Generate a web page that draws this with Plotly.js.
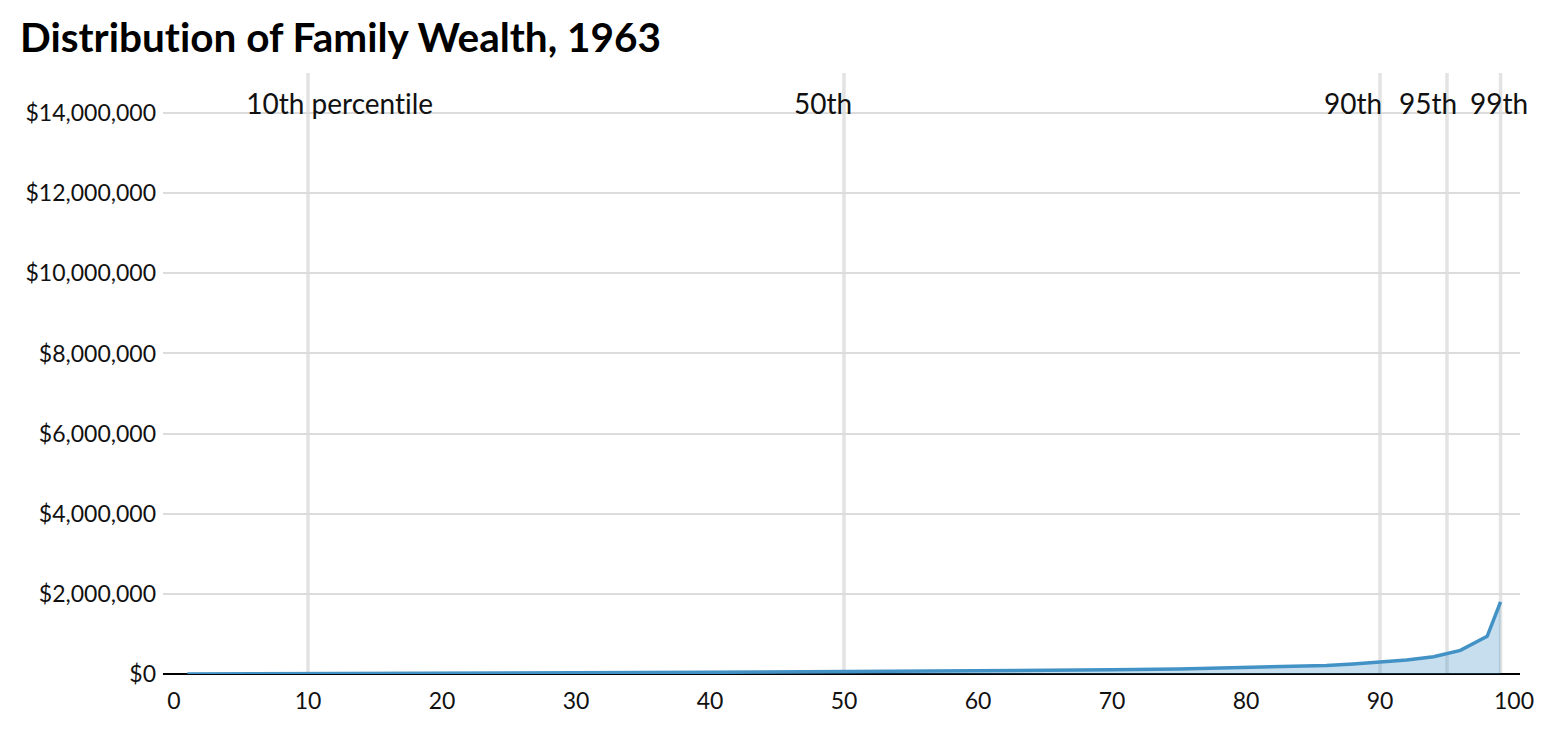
<!DOCTYPE html>
<html>
<head>
<meta charset="utf-8">
<script src="https://cdn.plot.ly/plotly-3.0.1.min.js"></script>
<style>
  body { margin: 0; background: #fff; }
  #chart { width: 1548px; height: 732px; }
  #chart text { font-variant-ligatures: none; font-feature-settings: "liga" 0; }
</style>
</head>
<body>
<div id="chart"></div>
<script>
// percentile of families (x) and family wealth in dollars (y)
const percentiles = [1, 5, 10, 15, 20, 25, 30, 35, 40, 45, 50, 55, 60, 65, 70, 75, 80, 84, 86, 88, 90, 92, 94, 96, 98, 99];
const wealth = [0, 2000, 5000, 10000, 15000, 20000, 27000, 35000, 42000, 50000, 58000, 67000, 78000, 90000, 105000, 125000, 160000, 190000, 215000, 250000, 300000, 350000, 430000, 590000, 940000, 1800000];

// reference lines and their labels
const markerPercentiles = [10, 50, 90, 95, 99];
const markerLabels = ['10th percentile', '50th', '90th', '95th', '99th'];
const markerLabelX = [12.35, 48.4, 88.0, 93.6, 98.9];

const yTicks = [0, 2000000, 4000000, 6000000, 8000000, 10000000, 12000000, 14000000];
const xTicks = [0, 10, 20, 30, 40, 50, 60, 70, 80, 90, 100];

const data = [
    {
        x: percentiles,
        y: wealth,
        mode: 'lines',
        type: 'scatter',
        fill: 'tozeroy',
        fillcolor: 'rgba(66,146,198,0.3)',
        line: { color: '#4292c6', width: 3.5 },
        hoverinfo: 'x+y'
    }
];

const shapes = markerPercentiles.map(p => ({
    type: 'line',
    xref: 'x',
    yref: 'paper',
    x0: p, x1: p,
    y0: 0, y1: 1,
    layer: 'below',
    line: { color: 'rgba(200,200,200,0.5)', width: 3.5 }
}));

const annotations = markerLabels.map((label, i) => ({
    text: label,
    xref: 'x',
    yref: 'paper',
    x: markerLabelX[i],
    y: 0.95,
    xanchor: 'center',
    yanchor: 'middle',
    showarrow: false,
    font: { family: 'Lato', size: 28, color: '#111' }
}));

const layout = {
    width: 1548,
    height: 732,
    margin: { l: 163, r: 28, t: 73, b: 58 },
    paper_bgcolor: '#fff',
    plot_bgcolor: '#fff',
    font: { family: 'Lato', size: 23, color: '#111' },
    title: {
        text: '<b>Distribution of Family Wealth, 1963</b>',
        font: { family: 'Lato', size: 40.5, color: '#000' },
        xref: 'container',
        yref: 'container',
        x: 20 / 1548,
        xanchor: 'left',
        y: 1 - 38 / 732,
        yanchor: 'middle'
    },
    xaxis: {
        range: [-0.82, 100.45],
        tickvals: xTicks,
        showgrid: false,
        zeroline: false,
        showline: false,
        ticks: '',
        ticklabelstandoff: 11,
        tickfont: { family: 'Lato', size: 23, color: '#111' }
    },
    yaxis: {
        range: [0, 15000000],
        tickvals: yTicks,
        tickformat: '$,d',
        showgrid: true,
        gridcolor: '#dcdcdc',
        gridwidth: 1.5,
        zeroline: true,
        zerolinecolor: '#000',
        zerolinewidth: 2,
        ticks: '',
        ticklabelstandoff: 6,
        tickfont: { family: 'Lato', size: 23, color: '#111' }
    },
    shapes: shapes,
    annotations: annotations,
    showlegend: false
};

Plotly.newPlot('chart', data, layout, { displayModeBar: false, responsive: false });
</script>
</body>
</html>
